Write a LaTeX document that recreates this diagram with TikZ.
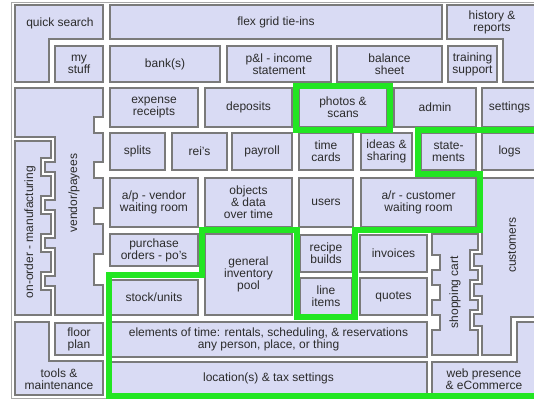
\documentclass[tikz,border=0pt]{standalone}
\usepackage{fontspec}
\setmainfont{Liberation Sans}
\usepackage{xcolor}
\definecolor{lavender}{HTML}{D9DBF4}
\definecolor{rim}{HTML}{7A7A7A}
\definecolor{inkgray}{HTML}{2B2B2B}
\definecolor{marker}{HTML}{22E622}
\definecolor{framegray}{HTML}{A8A8A8}
\tikzset{
  cell/.style={draw=rim,fill=lavender,line width=1.3pt,align=center,
               inner sep=0pt,font=\fontsize{12}{12}\selectfont,text=inkgray},
  piece/.style={draw=rim,fill=lavender,line width=1.3pt},
  lbl/.style={align=center,inner sep=0pt,font=\fontsize{12}{12}\selectfont,
              text=inkgray},
  hilite/.style={draw=marker,line width=6pt},
  outerframe/.style={draw=framegray,line width=1pt}
}

\begin{document}
\begin{tikzpicture}[x=1pt,y=-1pt]
    \path[use as bounding box] (0,0) rectangle (534,400);
    \clip (0,0) rectangle (534,400);
    \fill[white] (0,0) rectangle (534,400);
    \draw[outerframe] (11,2) rectangle (545,398);
    % odd shaped pieces
    \draw[piece] (15,5) -- (103,5) -- (103,39) -- (49,39) -- (49,82) -- (15,82) -- cycle;
    \draw[piece] (447,5) -- (537,5) -- (537,82) -- (503,82) -- (503,39) -- (447,39) -- cycle;
    \draw[piece] (15,322) -- (49,322) -- (49,361) -- (103,361) -- (103,395) -- (15,395) -- cycle;
    \draw[piece] (432,362) -- (517,362) -- (517,322) -- (537,322) -- (537,395) -- (432,395) -- cycle;
    \draw[piece] (15,141) -- (51,141)
      \foreach \a in {158,196,234,272}{ -- (51,\a) -- (41,\a) -- (41,\a+18) -- (51,\a+18) }
      -- (51,315) -- (15,315) -- cycle;
    \draw[piece] (15,88) -- (103,88)
      \foreach \a/\b in {117/133,162/178,208/224,254/285}{ -- (103,\a) -- (94,\a) -- (94,\b) -- (103,\b) }
      -- (103,315) -- (55,315)
      \foreach \a in {272,234,196,158}{ -- (55,\a+14) -- (45,\a+14) -- (45,\a+4) -- (55,\a+4) }
      -- (55,137) -- (15,137) -- cycle;
    \draw[piece] (432,234) -- (478,234)
      \foreach \a in {250,280,310}{ -- (478,\a) -- (470,\a) -- (470,\a+20) -- (478,\a+20) }
      -- (478,355) -- (432,355)
      \foreach \a in {315,285,255}{ -- (432,\a+15) -- (440,\a+15) -- (440,\a) -- (432,\a) }
      -- cycle;
    \draw[piece] (482,178) -- (537,178) -- (537,317) -- (511,317) -- (511,355) -- (482,355)
      \foreach \a in {310,280,250}{ -- (482,\a+16) -- (474,\a+16) -- (474,\a+4) -- (482,\a+4) }
      -- cycle;
    \node[lbl] (quicksearch) at (60,23) {quick search};
    \node[lbl] (history) at (492,22) {history \&\\reports};
    \node[lbl,rotate=90] (onorder) at (30,232) {on-order - manufacturing};
    \node[lbl,rotate=90] (vendors) at (74,193) {vendor/payees};
    \node[lbl,rotate=90] (cart) at (455,292) {shopping cart};
    \node[lbl,rotate=90] (customers) at (512,245) {customers};
    \node[lbl] (tools) at (59,379) {tools \&\\maintenance};
    \node[lbl] (webpresence) at (484,379) {web presence\\\& eCommerce};
    % plain boxes: name/left/top/right/bottom/text
    \foreach \nm/\xa/\ya/\xb/\yb/\txt in {
      flexgrid/110/5/442/39/{flex grid tie-ins},
      mystuff/55/46/103/82/{my\\stuff},
      banks/110/46/220/82/{bank(s)},
      pnl/227/46/331/82/{p\&l - income\\statement},
      balance/337/46/442/82/{balance\\sheet},
      training/448/46/497/82/{training\\support},
      expense/110/88/198/127/{expense\\receipts},
      deposits/205/88/292/127/{deposits},
      photos/299/88/387/127/{photos \&\\scans},
      admin/394/88/476/127/{admin},
      settings/482/88/537/127/{settings},
      splits/110/133/165/170/{splits},
      reis/172/133/227/170/{rei's},
      payroll/232/133/292/170/{payroll},
      timecards/299/133/353/170/{time\\cards},
      ideas/361/133/412/170/{ideas \&\\sharing},
      statements/421/133/476/170/{state-\\ments},
      logs/482/133/537/170/{logs},
      apvendor/110/178/198/227/{a/p - vendor\\waiting room},
      objects/205/178/292/227/{objects\\\& data\\over time},
      users/299/178/353/227/{users},
      arcustomer/361/178/476/227/{a/r - customer\\waiting room},
      purchase/110/234/198/266/{purchase\\orders - po's},
      geninv/205/234/292/315/{general\\inventory\\pool},
      recipe/300/235/352/272/{recipe\\builds},
      lineitems/300/278/352/315/{line\\items},
      invoices/360/235/427/272/{invoices},
      quotes/360/278/427/315/{quotes},
      stock/110/280/198/315/{stock/units},
      floorplan/55/323/103/355/{floor\\plan},
      elements/110/322/427/357/{elements of time: rentals, scheduling, \& reservations\\any person, place, or thing},
      location/110/362/427/395/{location(s) \& tax settings}}{
      \node[cell,minimum width={\xb-\xa},minimum height={\yb-\ya}] (\nm)
        at ({(\xa+\xb)/2},{(\ya+\yb)/2}) {\txt};
    }
    % green markings
    \draw[hilite] (296,86) rectangle (390,130);
    \draw[hilite] (545,130) -- (418,130) -- (418,174) -- (480,174) -- (480,230)
      -- (355,230) -- (355,317) -- (297,317) -- (297,230) -- (202,230)
      -- (202,275) -- (109,275) -- (109,396) -- (545,396);
\end{tikzpicture}
\end{document}
